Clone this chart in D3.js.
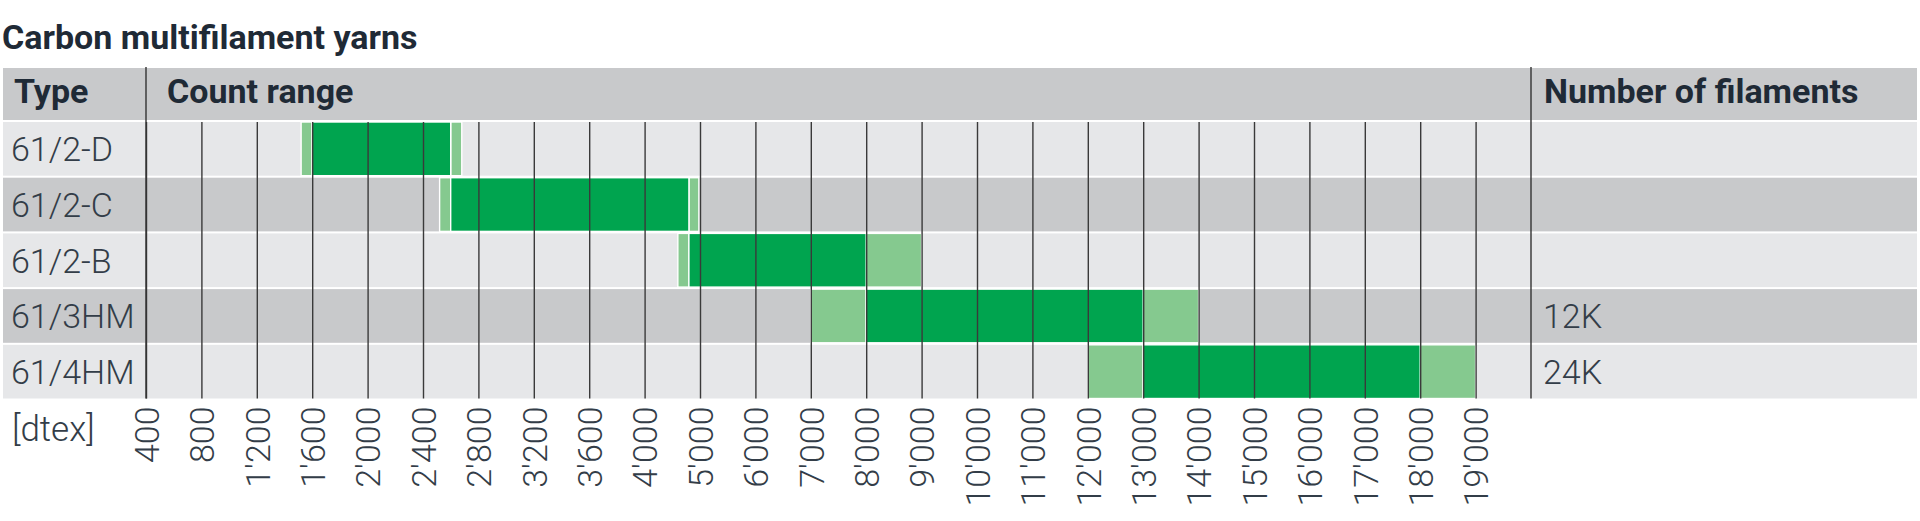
<!DOCTYPE html>
<html>
<head>
<meta charset="utf-8">
<script src="https://cdn.jsdelivr.net/npm/d3@7"></script>
<style>
  html, body { margin: 0; padding: 0; background: #fff; }
  svg { display: block; }
  text { font-family: Roboto, "Noto Sans", sans-serif; }
</style>
</head>
<body>
<svg id="chart" width="1920" height="521"></svg>
<script>
// ---------- data ----------
const title = "Carbon multifilament yarns";
const headers = ["Type", "Count range", "Number of filaments"];
const types = ["61/2-D", "61/2-C", "61/2-B", "61/3HM", "61/4HM"];
const lowerTolerance = [1520, 2520, 4600, 7000, 12000];
const rangeMin = [1600, 2600, 4800, 8000, 13000];
const rangeMax = [2600, 4800, 8000, 13000, 18000];
const upperTolerance = [2680, 4980, 9000, 14000, 19000];
const filaments = ["", "", "", "12K", "24K"];
const tickValues = [400, 800, 1200, 1600, 2000, 2400, 2800, 3200, 3600, 4000,
  5000, 6000, 7000, 8000, 9000, 10000, 11000, 12000, 13000, 14000, 15000,
  16000, 17000, 18000, 19000];
const unitLabel = "[dtex]";

// ---------- layout ----------
const tableLeft = 3, tableRight = 1917;
const headerTop = 68, headerH = 52;
const rowTop0 = 122, rowPitch = 55.3, rowGap = 2;
const step = 55.4;
const x0 = 146;
const darkGreen = "#00a44f", lightGreen = "#85c98f";
const rowDark = "#c8c9cb", rowLight = "#e6e7e9";
const textDark = "#1f2a36", textMid = "#333d48";

const svg = d3.select("#chart");

// piecewise linear scale: 400..4000 in 400 steps, 4000..20000 in 1000 steps, equal spacing
const x = d3.scaleLinear()
  .domain([400, 4000, 20000])
  .range([x0, x0 + 9 * step, x0 + 25 * step]);
const xEnd = x(20000);

const y = d3.scaleBand()
  .domain(types)
  .range([rowTop0, rowTop0 + rowPitch * types.length])
  .paddingInner(rowGap / rowPitch)
  .paddingOuter(0);

// title
svg.append("text")
  .attr("x", 2).attr("y", 49)
  .attr("font-size", 34).attr("font-weight", 700)
  .attr("fill", textDark)
  .text(title);

// header band
svg.append("rect")
  .attr("x", tableLeft).attr("y", headerTop)
  .attr("width", tableRight - tableLeft).attr("height", headerH)
  .attr("fill", rowDark);

const headerX = [14, x0 + 21, xEnd + 13];
svg.selectAll("text.hdr").data(headers).join("text")
  .attr("class", "hdr")
  .attr("x", (d, i) => headerX[i]).attr("y", headerTop + 35)
  .attr("font-size", 34).attr("font-weight", 700)
  .attr("fill", textDark)
  .text(d => d);

// row backgrounds
svg.selectAll("rect.rowbg").data(types).join("rect")
  .attr("class", "rowbg")
  .attr("x", tableLeft).attr("y", d => y(d))
  .attr("width", tableRight - tableLeft).attr("height", y.bandwidth())
  .attr("fill", (d, i) => i % 2 === 0 ? rowLight : rowDark);

// bars
const segs = [];
types.forEach((t, i) => {
  segs.push({ t, a: lowerTolerance[i], b: rangeMin[i], c: lightGreen });
  segs.push({ t, a: rangeMax[i], b: upperTolerance[i], c: lightGreen });
  segs.push({ t, a: rangeMin[i], b: rangeMax[i], c: darkGreen });
});
svg.selectAll("rect.seg").data(segs).join("rect")
  .attr("class", "seg")
  .attr("x", d => x(d.a)).attr("y", d => y(d.t))
  .attr("width", d => x(d.b) - x(d.a)).attr("height", y.bandwidth())
  .attr("fill", d => d.c)
  .attr("stroke", "#fff").attr("stroke-width", 1.4);

// grid lines via axis
const tableBottom = y(types[types.length - 1]) + y.bandwidth();
const fmt = d3.formatLocale({ decimal: ".", thousands: "'", grouping: [3], currency: ["", ""] }).format(",");
const axis = d3.axisBottom(x)
  .tickValues(tickValues)
  .tickSize(tableBottom - rowTop0)
  .tickFormat(fmt);
const gAxis = svg.append("g")
  .attr("transform", `translate(0,${rowTop0})`)
  .call(axis);
gAxis.select(".domain").remove();
gAxis.selectAll(".tick line")
  .attr("stroke", "#3a3a3a").attr("stroke-width", 1.4);
gAxis.selectAll(".tick text")
  .attr("fill", textMid)
  .attr("font-size", 34).attr("font-weight", 300)
  .attr("font-family", "Roboto, sans-serif")
  .attr("text-anchor", "end")
  .attr("y", null)
  .attr("transform", `translate(0,${tableBottom - rowTop0 + 8}) rotate(-90)`)
  .attr("x", 0)
  .attr("dy", "0.36em");

// column dividers
[x0, xEnd].forEach(xx => {
  svg.append("line")
    .attr("x1", xx).attr("x2", xx)
    .attr("y1", headerTop - 1).attr("y2", tableBottom)
    .attr("stroke", "#333").attr("stroke-width", 1.4);
});

// row labels
svg.selectAll("text.type").data(types).join("text")
  .attr("class", "type")
  .attr("x", 11).attr("y", d => y(d) + y.bandwidth() / 2 + 12.5)
  .attr("font-size", 34).attr("font-weight", 300)
  .attr("fill", textMid)
  .text(d => d);

svg.selectAll("text.fil").data(types).join("text")
  .attr("class", "fil")
  .attr("x", xEnd + 12).attr("y", d => y(d) + y.bandwidth() / 2 + 12.5)
  .attr("font-size", 34).attr("font-weight", 300)
  .attr("fill", textMid)
  .text((d, i) => filaments[i]);

// unit label
svg.append("text")
  .attr("x", 12).attr("y", 441)
  .attr("font-size", 35).attr("font-weight", 300)
  .attr("fill", textMid)
  .text(unitLabel);
</script>
</body>
</html>
